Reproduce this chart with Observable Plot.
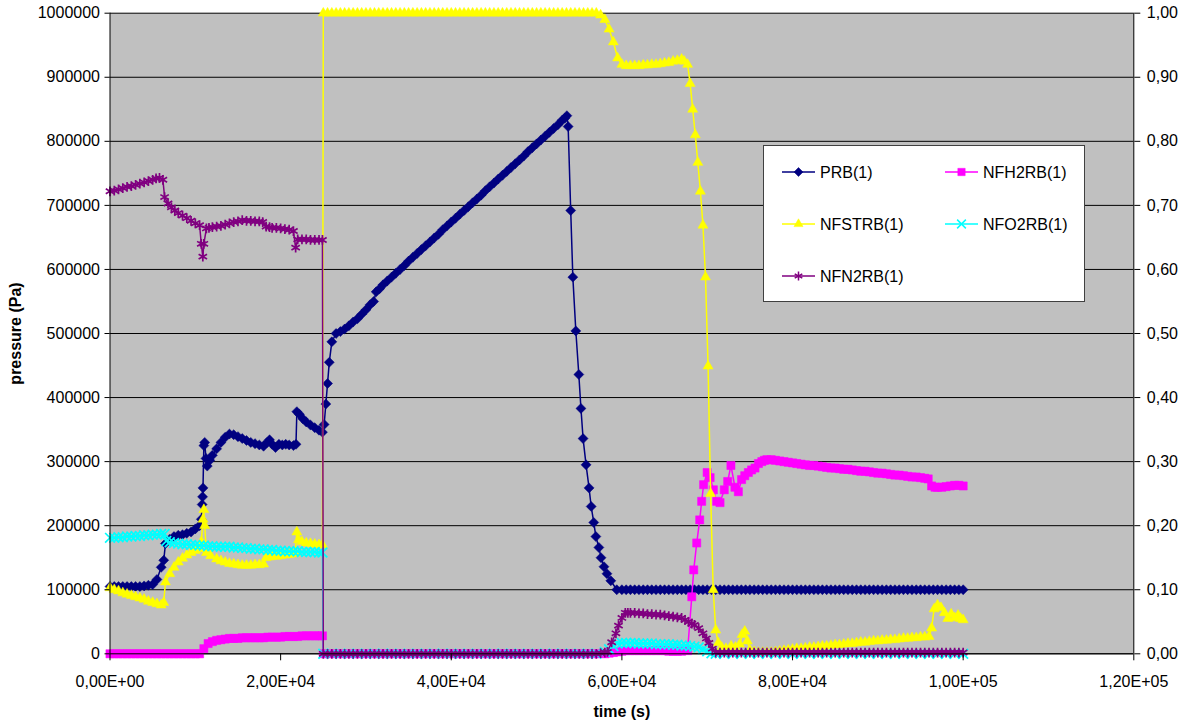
<!DOCTYPE html>
<html><head><meta charset="utf-8">
<script src="https://cdn.jsdelivr.net/npm/d3@7"></script>
<script src="https://cdn.jsdelivr.net/npm/@observablehq/plot@0.6"></script>
<style>
body{margin:0;background:#fff;font-family:"Liberation Sans",Arial,sans-serif;}
#wrap{position:relative;width:1183px;height:721px;overflow:hidden;}
#legend{position:absolute;left:763px;top:145px;width:322px;height:157px;background:#fff;border:1.5px solid #404040;box-sizing:border-box;}
g[aria-label="x-axis label"] text, g[aria-label="y-axis label"] text{font-weight:bold;}
</style></head><body><div id="wrap"></div>
<script>
// ---- data (time in s; PRB in Pa; others are fractions, right axis) ----
const seriesNames = ["PRB(1)", "NFH2RB(1)", "NFSTRB(1)", "NFO2RB(1)", "NFN2RB(1)"];
const seriesColors = ["#000080", "#ff00ff", "#ffff00", "#00ffff", "#800080"];
const xTicks = [0, 20000, 40000, 60000, 80000, 100000, 120000];
const yTicks = [0, 100000, 200000, 300000, 400000, 500000, 600000, 700000, 800000, 900000, 1000000];

const prbPoints = [
[0,105000],[500,105000],[1000,105000],[1500,105000],[2000,105000],[2500,105000],[3000,105000],[3500,105000],[4000,106000],[4500,107000],[5000,108000],[5500,116000],[6000,135000],[6300,146000],[6500,172000],[7000,179000],[7500,183000],[8000,185000],[8500,186000],[9000,188000],[9500,190000],[10000,195000],[10500,200000],[10700,210000],[10800,233000],[10850,245000],[10900,259000],[11000,325000],[11100,330000],[11250,305000],[11400,293000],[11700,302000],[12000,310000],[12500,320000],[13000,330000],[13500,338000],[14000,343000],[14500,342000],[15000,339000],[15500,336000],[16000,333000],[16500,330000],[17000,328000],[17500,326000],[18000,324000],[18400,330000],[18700,334000],[19000,327000],[19400,322000],[19800,327000],[20200,326000],[20600,327000],[21000,326000],[21500,325000],[21800,327000],[21900,378000],[22200,374000],[22600,367000],[23000,362000],[23500,357000],[24000,353000],[24500,349000],[24900,346000],[25100,358000],[25300,390000],[25500,422000],[25700,455000],[26000,487000],[26500,500000],[27000,503000],[27500,507000],[28000,512000],[28500,518000],[29000,523000],[29500,530000],[30000,537000],[30500,545000],[30900,550000],[31200,565000],[31600,570000],[32000,576000],[32500,582000],[33000,588000],[33500,594000],[34000,600000],[34500,606000],[35000,613000],[35500,619000],[36000,625000],[36500,631000],[37000,637000],[37500,643000],[38000,649000],[38500,655000],[39000,662000],[39500,668000],[40000,674000],[40500,680000],[41000,686000],[41500,692000],[42000,698000],[42500,704000],[43000,710000],[43500,716000],[44000,723000],[44500,729000],[45000,735000],[45500,741000],[46000,747000],[46500,753000],[47000,759000],[47500,765000],[48000,771000],[48500,777000],[49000,784000],[49500,790000],[50000,796000],[50500,802000],[51000,808000],[51500,814000],[52000,820000],[52500,826000],[53000,833000],[53300,836000],[53550,840000],[53700,823000],[54000,692000],[54250,588000],[54600,504000],[54950,436000],[55200,383000],[55450,336000],[55800,295000],[56150,259000],[56400,230000],[56700,205000],[56950,183000],[57300,166000],[57550,150000],[57900,136000],[58250,125000],[58700,114000],[59400,100000],[60000,100000],[60500,100000],[61000,100000],[61500,100000],[62000,100000],[62500,100000],[63000,100000],[63500,100000],[64000,100000],[64500,100000],[65000,100000],[65500,100000],[66000,100000],[66500,100000],[67000,100000],[67500,100000],[68000,100000],[68500,100000],[69000,100000],[69500,100000],[70000,100000],[70500,100000],[71000,100000],[71500,100000],[72000,100000],[72500,100000],[73000,100000],[73500,100000],[74000,100000],[74500,100000],[75000,100000],[75500,100000],[76000,100000],[76500,100000],[77000,100000],[77500,100000],[78000,100000],[78500,100000],[79000,100000],[79500,100000],[80000,100000],[80500,100000],[81000,100000],[81500,100000],[82000,100000],[82500,100000],[83000,100000],[83500,100000],[84000,100000],[84500,100000],[85000,100000],[85500,100000],[86000,100000],[86500,100000],[87000,100000],[87500,100000],[88000,100000],[88500,100000],[89000,100000],[89500,100000],[90000,100000],[90500,100000],[91000,100000],[91500,100000],[92000,100000],[92500,100000],[93000,100000],[93500,100000],[94000,100000],[94500,100000],[95000,100000],[95500,100000],[96000,100000],[96500,100000],[97000,100000],[97500,100000],[98000,100000],[98500,100000],[99000,100000],[99500,100000],[100000,100000]
];

const nfh2rbPoints = [
[0,0],[500,0],[1000,0],[1500,0],[2000,0],[2500,0],[3000,0],[3500,0],[4000,0],[4500,0],[5000,0],[5500,0],[6000,0],[6500,0],[7000,0],[7500,0],[8000,0],[8500,0],[9000,0],[9500,0],[10000,0],[10500,0],[11000,0.008],[11500,0.016],[12000,0.019],[12500,0.021],[13000,0.022],[13500,0.023],[14000,0.024],[14500,0.024],[15000,0.024],[15500,0.025],[16000,0.025],[16500,0.025],[17000,0.025],[17500,0.025],[18000,0.025],[18500,0.026],[19000,0.026],[19500,0.026],[20000,0.026],[20500,0.027],[21000,0.027],[21500,0.027],[22000,0.027],[22500,0.028],[23000,0.028],[23500,0.028],[24000,0.028],[24500,0.028],[24900,0.028],[25000,0],[26000,0],[27000,0],[28000,0],[29000,0],[30000,0],[31000,0],[32000,0],[33000,0],[34000,0],[35000,0],[36000,0],[37000,0],[38000,0],[39000,0],[40000,0],[41000,0],[42000,0],[43000,0],[44000,0],[45000,0],[46000,0],[47000,0],[48000,0],[49000,0],[50000,0],[51000,0],[52000,0],[53000,0],[54000,0],[55000,0],[56000,0],[57000,0],[58000,0],[58500,0.001],[59000,0.002],[59500,0.003],[60000,0.004],[60500,0.005],[61000,0.005],[61500,0.005],[62000,0.005],[62500,0.005],[63000,0.005],[63500,0.005],[64000,0.005],[64500,0.005],[65000,0.005],[65500,0.004],[66000,0.004],[66500,0.004],[67000,0.004],[67700,0.005],[68190,0.089],[68420,0.131],[68770,0.173],[69120,0.209],[69350,0.238],[69580,0.264],[69990,0.283],[70340,0.275],[70720,0.256],[71110,0.238],[71500,0.236],[72000,0.256],[72400,0.269],[72780,0.294],[73250,0.26],[73650,0.253],[74030,0.272],[74400,0.278],[74820,0.283],[75200,0.287],[75600,0.29],[76000,0.297],[76400,0.3],[76700,0.302],[77000,0.303],[77500,0.303],[78000,0.302],[78500,0.301],[79000,0.3],[79500,0.299],[80000,0.298],[80500,0.297],[81000,0.296],[81500,0.295],[82000,0.294],[82500,0.294],[83000,0.293],[83500,0.292],[84000,0.291],[84500,0.29],[85000,0.29],[85500,0.289],[86000,0.288],[86500,0.288],[87000,0.287],[87500,0.286],[88000,0.285],[88500,0.285],[89000,0.284],[89500,0.283],[90000,0.282],[90500,0.282],[91000,0.281],[91500,0.28],[92000,0.279],[92500,0.279],[93000,0.278],[93500,0.277],[94000,0.276],[94500,0.276],[95000,0.275],[95500,0.274],[95900,0.273],[96300,0.262],[96700,0.26],[97000,0.26],[97500,0.26],[98000,0.261],[98500,0.262],[99000,0.263],[99500,0.263],[100000,0.262]
];

const nfstrbPoints = [
[0,0.103],[500,0.1],[1000,0.098],[1500,0.095],[2000,0.093],[2500,0.091],[3000,0.089],[3500,0.087],[4000,0.085],[4500,0.082],[5000,0.08],[5500,0.078],[6000,0.076],[6300,0.08],[6500,0.112],[7000,0.125],[7500,0.135],[8000,0.143],[8500,0.149],[9000,0.154],[9500,0.158],[10000,0.161],[10500,0.164],[10700,0.175],[10900,0.21],[11000,0.225],[11100,0.2],[11300,0.158],[11800,0.153],[12500,0.148],[13000,0.145],[13500,0.143],[14000,0.141],[14500,0.14],[15000,0.139],[15500,0.138],[16000,0.138],[16500,0.138],[17000,0.139],[17500,0.139],[18000,0.14],[18300,0.15],[18700,0.151],[19000,0.152],[19500,0.152],[20000,0.153],[20500,0.154],[21000,0.155],[21400,0.156],[21700,0.157],[21900,0.19],[22100,0.178],[22500,0.175],[23000,0.173],[23500,0.172],[24000,0.171],[24500,0.17],[24900,0.17],[25000,1],[25500,1],[26000,1],[26500,1],[27000,1],[27500,1],[28000,1],[28500,1],[29000,1],[29500,1],[30000,1],[30500,1],[31000,1],[31500,1],[32000,1],[32500,1],[33000,1],[33500,1],[34000,1],[34500,1],[35000,1],[35500,1],[36000,1],[36500,1],[37000,1],[37500,1],[38000,1],[38500,1],[39000,1],[39500,1],[40000,1],[40500,1],[41000,1],[41500,1],[42000,1],[42500,1],[43000,1],[43500,1],[44000,1],[44500,1],[45000,1],[45500,1],[46000,1],[46500,1],[47000,1],[47500,1],[48000,1],[48500,1],[49000,1],[49500,1],[50000,1],[50500,1],[51000,1],[51500,1],[52000,1],[52500,1],[53000,1],[53500,1],[54000,1],[54500,1],[55000,1],[55500,1],[56000,1],[56500,1],[57000,1],[57500,0.997],[58000,0.99],[58500,0.975],[59000,0.955],[59500,0.93],[60000,0.92],[60500,0.918],[61000,0.918],[61500,0.918],[62000,0.918],[62500,0.919],[63000,0.919],[63500,0.92],[64000,0.92],[64500,0.921],[65000,0.922],[65500,0.923],[66000,0.925],[66500,0.926],[67000,0.928],[67300,0.925],[67700,0.92],[68000,0.89],[68300,0.85],[68600,0.81],[68900,0.767],[69200,0.722],[69500,0.669],[69800,0.588],[70100,0.449],[70400,0.25],[70700,0.1],[71000,0.037],[71300,0.017],[71700,0.01],[72200,0.008],[72800,0.012],[73300,0.01],[73800,0.015],[74100,0.03],[74400,0.035],[74700,0.02],[75000,0.006],[75500,0.003],[76000,0.002],[76500,0.002],[77000,0.002],[77500,0.002],[78000,0.003],[78500,0.004],[79000,0.005],[79500,0.006],[80000,0.007],[80500,0.008],[81000,0.008],[81500,0.009],[82000,0.01],[82500,0.01],[83000,0.011],[83500,0.012],[84000,0.012],[84500,0.013],[85000,0.014],[85500,0.014],[86000,0.015],[86500,0.016],[87000,0.016],[87500,0.017],[88000,0.018],[88500,0.018],[89000,0.019],[89500,0.02],[90000,0.02],[90500,0.021],[91000,0.021],[91500,0.022],[92000,0.022],[92500,0.023],[93000,0.024],[93500,0.024],[94000,0.025],[94500,0.025],[95000,0.026],[95500,0.026],[96000,0.027],[96300,0.04],[96600,0.07],[97000,0.076],[97400,0.072],[97800,0.064],[98200,0.055],[98600,0.062],[99000,0.056],[99400,0.06],[99700,0.055],[100000,0.053]
];

const nfo2rbPoints = [
[0,0.181],[500,0.181],[1000,0.182],[1500,0.182],[2000,0.183],[2500,0.183],[3000,0.184],[3500,0.184],[4000,0.185],[4500,0.185],[5000,0.186],[5500,0.186],[6000,0.187],[6400,0.187],[6600,0.176],[7000,0.174],[7500,0.173],[8000,0.172],[8500,0.171],[9000,0.171],[9500,0.17],[10000,0.17],[10500,0.169],[11000,0.169],[11500,0.168],[12000,0.168],[12500,0.167],[13000,0.167],[13500,0.167],[14000,0.167],[14500,0.166],[15000,0.166],[15500,0.165],[16000,0.165],[16500,0.164],[17000,0.164],[17500,0.163],[18000,0.163],[18500,0.162],[19000,0.162],[19500,0.161],[20000,0.161],[20500,0.16],[21000,0.16],[21500,0.16],[22000,0.16],[22500,0.159],[23000,0.159],[23500,0.159],[24000,0.159],[24500,0.158],[24900,0.158],[25000,0],[26000,0],[27000,0],[28000,0],[29000,0],[30000,0],[31000,0],[32000,0],[33000,0],[34000,0],[35000,0],[36000,0],[37000,0],[38000,0],[39000,0],[40000,0],[41000,0],[42000,0],[43000,0],[44000,0],[45000,0],[46000,0],[47000,0],[48000,0],[49000,0],[50000,0],[51000,0],[52000,0],[53000,0],[54000,0],[55000,0],[56000,0],[57000,0],[58000,0.003],[58500,0.007],[59000,0.012],[59500,0.016],[60000,0.017],[60500,0.017],[61000,0.017],[61500,0.017],[62000,0.016],[62500,0.016],[63000,0.016],[63500,0.016],[64000,0.015],[64500,0.015],[65000,0.015],[65500,0.015],[66000,0.014],[66500,0.014],[67000,0.013],[67500,0.013],[68000,0.012],[68500,0.011],[69000,0.01],[69500,0.007],[70000,0.004],[70500,0.001],[71000,0],[72000,0],[73000,0],[74000,0],[75000,0],[76000,0],[77000,0],[78000,0],[79000,0],[80000,0],[81000,0],[82000,0],[83000,0],[84000,0],[85000,0],[86000,0],[87000,0],[88000,0],[89000,0],[90000,0],[91000,0],[92000,0],[93000,0],[94000,0],[95000,0],[96000,0],[97000,0],[98000,0],[99000,0],[100000,0]
];

const nfn2rbPoints = [
[0,0.722],[500,0.723],[1000,0.725],[1500,0.727],[2000,0.729],[2500,0.73],[3000,0.732],[3500,0.734],[4000,0.736],[4500,0.738],[5000,0.74],[5400,0.742],[5800,0.743],[6200,0.74],[6400,0.713],[6800,0.703],[7200,0.697],[7600,0.692],[8000,0.688],[8500,0.684],[9000,0.68],[9500,0.676],[10000,0.672],[10500,0.669],[10700,0.64],[10880,0.62],[11000,0.64],[11300,0.664],[11600,0.665],[12000,0.666],[12500,0.667],[13000,0.668],[13500,0.67],[14000,0.672],[14500,0.674],[15000,0.675],[15500,0.677],[16000,0.676],[16500,0.676],[17000,0.675],[17500,0.675],[17900,0.674],[18300,0.667],[18700,0.666],[19000,0.665],[19500,0.665],[20000,0.664],[20500,0.663],[21000,0.662],[21500,0.66],[21760,0.634],[22000,0.647],[22500,0.647],[23000,0.647],[23500,0.646],[24000,0.646],[24500,0.646],[24900,0.646],[25000,0],[25500,0],[26000,0],[26500,0],[27000,0],[27500,0],[28000,0],[28500,0],[29000,0],[29500,0],[30000,0],[30500,0],[31000,0],[31500,0],[32000,0],[32500,0],[33000,0],[33500,0],[34000,0],[34500,0],[35000,0],[35500,0],[36000,0],[36500,0],[37000,0],[37500,0],[38000,0],[38500,0],[39000,0],[39500,0],[40000,0],[40500,0],[41000,0],[41500,0],[42000,0],[42500,0],[43000,0],[43500,0],[44000,0],[44500,0],[45000,0],[45500,0],[46000,0],[46500,0],[47000,0],[47500,0],[48000,0],[48500,0],[49000,0],[49500,0],[50000,0],[50500,0],[51000,0],[51500,0],[52000,0],[52500,0],[53000,0],[53500,0],[54000,0],[54500,0],[55000,0],[55500,0],[56000,0],[56500,0],[57000,0],[57500,0.001],[58000,0.002],[58300,0.003],[58800,0.018],[59300,0.032],[59600,0.044],[60000,0.056],[60400,0.064],[60700,0.064],[61000,0.064],[61500,0.064],[62000,0.063],[62500,0.063],[63000,0.062],[63500,0.062],[64000,0.061],[64500,0.061],[65000,0.06],[65500,0.059],[66000,0.058],[66500,0.057],[67000,0.056],[67400,0.053],[67800,0.05],[68200,0.047],[68500,0.045],[69000,0.04],[69500,0.032],[69900,0.024],[70200,0.017],[70600,0.008],[71000,0.002],[71500,0.002],[72000,0.002],[72500,0.002],[73000,0.002],[73500,0.002],[74000,0.002],[74500,0.002],[75000,0.002],[75500,0.002],[76000,0.002],[76500,0.002],[77000,0.002],[77500,0.002],[78000,0.002],[78500,0.002],[79000,0.002],[79500,0.002],[80000,0.002],[80500,0.002],[81000,0.002],[81500,0.002],[82000,0.002],[82500,0.002],[83000,0.002],[83500,0.002],[84000,0.002],[84500,0.002],[85000,0.002],[85500,0.002],[86000,0.002],[86500,0.002],[87000,0.002],[87500,0.002],[88000,0.002],[88500,0.002],[89000,0.002],[89500,0.002],[90000,0.002],[90500,0.002],[91000,0.002],[91500,0.002],[92000,0.002],[92500,0.002],[93000,0.002],[93500,0.002],[94000,0.002],[94500,0.002],[95000,0.002],[95500,0.002],[96000,0.002],[96500,0.002],[97000,0.002],[97500,0.002],[98000,0.002],[98500,0.002],[99000,0.002],[99500,0.002],[100000,0.002]
];

// ---- build ----
const FRAC = 1e6; // right axis 0..1 maps onto left 0..1e6
const seriesDefs = [
  {name: seriesNames[0], color: seriesColors[0], pts: prbPoints, k: 1, symbol: "diamond2", r: 4.5, filled: true},
  {name: seriesNames[1], color: seriesColors[1], pts: nfh2rbPoints, k: FRAC, symbol: "square2", r: 5.2, filled: true},
  {name: seriesNames[2], color: seriesColors[2], pts: nfstrbPoints, k: FRAC, symbol: "triangle2", r: 4.8, filled: true},
  {name: seriesNames[3], color: seriesColors[3], pts: nfo2rbPoints, k: FRAC, symbol: "times", r: 4.5, filled: false},
  {name: seriesNames[4], color: seriesColors[4], pts: nfn2rbPoints, k: FRAC, symbol: "asterisk", r: 4.6, filled: false}
];

const fmtX = d => {
  const [m, e] = d.toExponential(2).split("e");
  return m.replace(".", ",") + "E" + e[0] + e.slice(1).padStart(2, "0");
};
const fmtFrac = d => (d / FRAC).toFixed(2).replace(".", ",");

const dataMarks = [];
for (const s of seriesDefs) {
  const rows = s.pts.map(([t, v]) => ({t, v: v * s.k}));
  dataMarks.push(Plot.line(rows, {x: "t", y: "v", stroke: s.color, strokeWidth: 1.5}));
  dataMarks.push(Plot.dot(rows, s.filled
    ? {x: "t", y: "v", symbol: () => s.symbol, r: s.r, fill: s.color, stroke: s.color, strokeWidth: 0.5}
    : {x: "t", y: "v", symbol: () => s.symbol, r: s.r, fill: "none", stroke: s.color, strokeWidth: 1.7}));
}

const chart = Plot.plot({
  width: 1183, height: 721,
  marginLeft: 109.5, marginRight: 49.7, marginTop: 12.7, marginBottom: 67.7,
  style: {fontFamily: '"Liberation Sans", Arial, sans-serif', fontSize: "16px", background: "transparent", color: "#000", overflow: "visible"},
  x: {domain: [0, 120000]},
  y: {domain: [0, 1000000]},
  symbol: {type: "identity"},
  marks: [
    Plot.frame({fill: "#c0c0c0", stroke: "none"}),
    Plot.gridY(yTicks, {stroke: "#000", strokeOpacity: 1, strokeWidth: 1}),
    ...dataMarks,
    Plot.axisY({anchor: "left", ticks: yTicks, tickFormat: d => String(d), tickSize: 5, tickPadding: 5,
      label: "pressure (Pa)", labelAnchor: "center", labelArrow: "none", labelOffset: 100}),
    Plot.axisY({anchor: "right", ticks: yTicks, tickFormat: fmtFrac, tickSize: 6, tickPadding: 7, label: null}),
    Plot.axisX({ticks: xTicks, tickFormat: fmtX, tickSize: 7, tickPadding: 15,
      label: "time (s)", labelAnchor: "center", labelArrow: "none", labelOffset: 63}),
    Plot.ruleX([0], {stroke: "#000"}),
    Plot.ruleX([120000], {stroke: "#000"}),
    Plot.ruleY([0], {stroke: "#000"})
  ]
});
const wrap = document.getElementById("wrap");
wrap.appendChild(chart);

// ---- legend (HTML overlay with inline svg) ----
const legend = document.createElement("div");
legend.id = "legend";
const lw = 322, lh = 157;
const svg = d3.create("svg").attr("width", lw - 3).attr("height", lh - 3)
  .style("font-family", '"Liberation Sans", Arial, sans-serif').style("font-size", "16px");
const symMap = {diamond2: d3.symbolDiamond2, square2: d3.symbolSquare2, triangle2: d3.symbolTriangle2, times: d3.symbolTimes, asterisk: d3.symbolAsterisk};
const cellPos = [[0, 0], [1, 0], [0, 1], [1, 1], [0, 2]];
seriesDefs.forEach((s, i) => {
  const [c, r] = cellPos[i];
  const x0 = c === 0 ? 18 : 181, cy = 26 + r * 52;
  const lr = s.r * 0.9;
  const g = svg.append("g");
  g.append("line").attr("x1", x0).attr("x2", x0 + 33).attr("y1", cy).attr("y2", cy).attr("stroke", s.color).attr("stroke-width", 1.5);
  g.append("path").attr("transform", `translate(${x0 + 16.5},${cy})`)
    .attr("d", d3.symbol(symMap[s.symbol], lr * lr * Math.PI)())
    .attr("fill", s.filled ? s.color : "none").attr("stroke", s.color).attr("stroke-width", s.filled ? 0.5 : 1.5);
  g.append("text").attr("x", x0 + 38).attr("y", cy).attr("dy", "0.35em").text(s.name);
});
legend.appendChild(svg.node());
wrap.appendChild(legend);
</script>
</body></html>
